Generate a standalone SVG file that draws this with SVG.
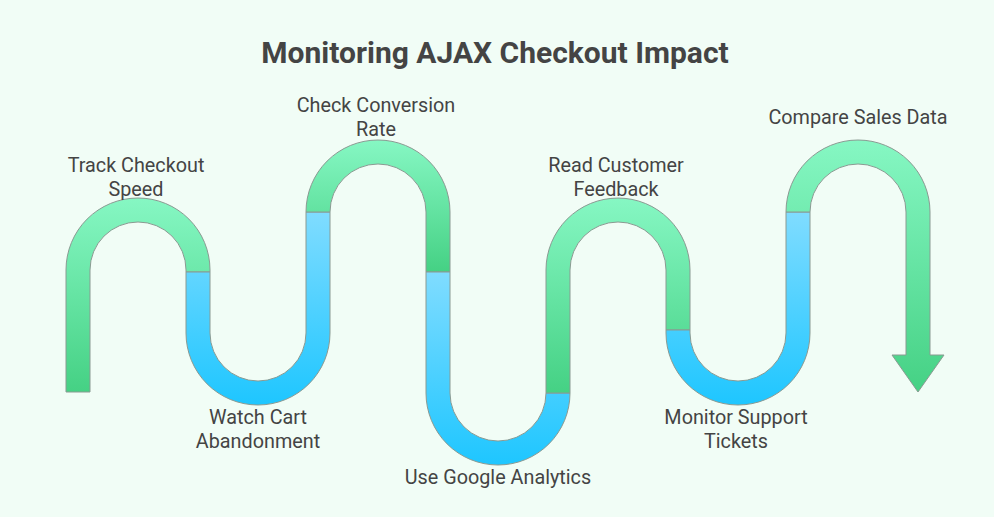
<svg xmlns="http://www.w3.org/2000/svg" width="994" height="517" viewBox="0 0 994 517">
<defs>
<linearGradient id="g" x1="0" y1="0" x2="0" y2="1"><stop offset="0" stop-color="#86f7c3"/><stop offset="1" stop-color="#45d184"/></linearGradient>
<linearGradient id="b" x1="0" y1="0" x2="0" y2="1"><stop offset="0" stop-color="#80dcff"/><stop offset="1" stop-color="#1ec6ff"/></linearGradient>
</defs>
<style>
.g{fill:url(#g);stroke:#8a9a92;stroke-width:1}
.b{fill:url(#b);stroke:#8a9a92;stroke-width:1}
text{font-family:Roboto,"Liberation Sans",sans-serif;font-size:19.8px;fill:#444;text-anchor:middle}
.t{font-size:30px;font-weight:bold}
</style>
<rect width="994" height="517" fill="#f1fdf6"/>
<text class="t" x="495" y="63">Monitoring AJAX Checkout Impact</text>
<g id="connectors">
<path id="s1" class="g" d="M66,392 V270 A72,72 0 0 1 210,270 V272 H186 V270 A48,48 0 0 0 90,270 V392 Z"/>
<path id="s2" class="b" d="M186,272 H210 V333 A48,48 0 0 0 306,333 V212 H330 V333 A72,72 0 0 1 186,333 Z"/>
<path id="s3" class="g" d="M306,212 A72,72 0 0 1 450,212 V272 H426 V212 A48,48 0 0 0 330,212 Z"/>
<path id="s4" class="b" d="M426,272 H450 V393 A48,48 0 0 0 546,393 H570 A72,72 0 0 1 426,393 Z"/>
<path id="s5" class="g" d="M546,393 V270 A72,72 0 0 1 690,270 V330 H666 V270 A48,48 0 0 0 570,270 V393 Z"/>
<path id="s6" class="b" d="M666,330 H690 V333 A48,48 0 0 0 786,333 V212 H810 V333 A72,72 0 0 1 666,333 Z"/>
<path id="s7" class="g" d="M786,212 A72,72 0 0 1 930,212 V355 H944 L918,392 L892,355 H906 V212 A48,48 0 0 0 810,212 Z"/>
</g>
<g id="n1"><text x="136" y="172">Track Checkout</text><text x="136" y="196">Speed</text></g>
<g id="n2"><text x="258" y="424">Watch Cart</text><text x="258" y="448">Abandonment</text></g>
<g id="n3"><text x="376" y="112">Check Conversion</text><text x="376" y="136">Rate</text></g>
<g id="n4"><text x="498" y="484">Use Google Analytics</text></g>
<g id="n5"><text x="616" y="172">Read Customer</text><text x="616" y="196">Feedback</text></g>
<g id="n6"><text x="736" y="424">Monitor Support</text><text x="736" y="448">Tickets</text></g>
<g id="n7"><text x="858" y="124">Compare Sales Data</text></g>
</svg>
